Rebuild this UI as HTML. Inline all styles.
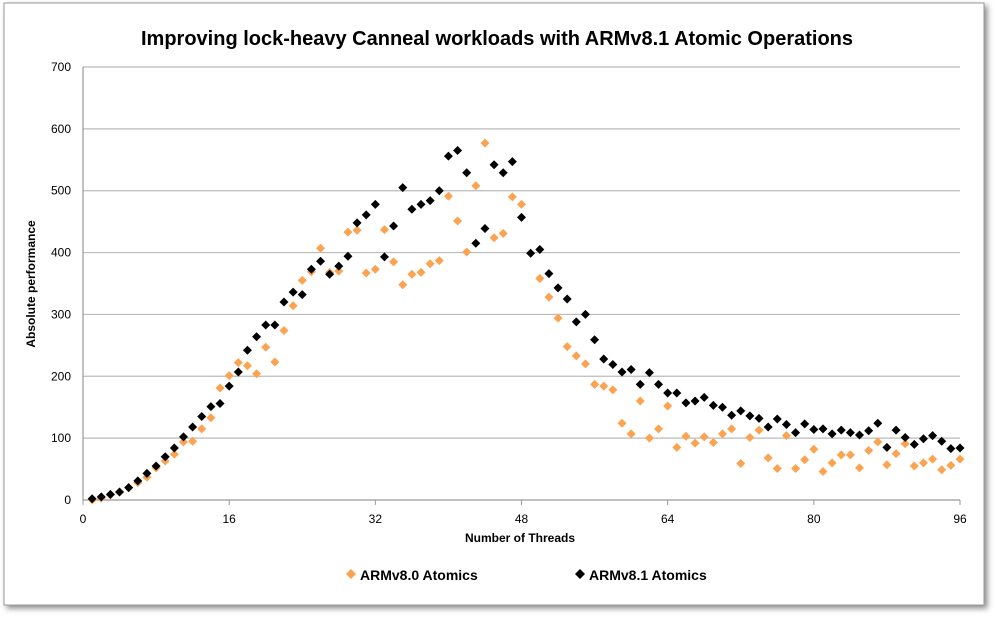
<!DOCTYPE html>
<html><head><meta charset="utf-8"><style>
html,body{margin:0;padding:0;background:#fff;}
body{width:996px;height:617px;overflow:hidden;font-family:"Liberation Sans",sans-serif;}
</style></head><body>
<svg width="996" height="617" xmlns="http://www.w3.org/2000/svg">
<defs><filter id="sh" x="-5%" y="-5%" width="110%" height="110%"><feDropShadow dx="3" dy="3" stdDeviation="3" flood-color="#000" flood-opacity="0.45"/></filter></defs>
<rect x="4" y="3" width="980" height="602" fill="#fff" stroke="#999" stroke-width="1" filter="url(#sh)"/>
<text x="497" y="45" text-anchor="middle" font-size="20" font-weight="bold" fill="#000">Improving lock-heavy Canneal workloads with ARMv8.1 Atomic Operations</text>
<g id="grid"></g>
<g id="axes"></g>
<g id="marks"></g>
<text x="520" y="542" text-anchor="middle" font-size="12" font-weight="bold">Number of Threads</text>
<text x="0" y="0" transform="translate(35,284) rotate(-90)" text-anchor="middle" font-size="12" font-weight="bold">Absolute performance</text>
<g><path d="M351 569 l5 5 l-5 5 l-5 -5z" fill="#fba350"/><text x="360" y="580" font-size="14" font-weight="bold">ARMv8.0 Atomics</text></g>
<g><path d="M580 569 l5 5 l-5 5 l-5 -5z" fill="#000"/><text x="589" y="580" font-size="14" font-weight="bold">ARMv8.1 Atomics</text></g>
</svg>
<script>
const xTicks=[0,16,32,48,64,80,96];
const yTicks=[0,100,200,300,400,500,600,700];
const v80=[0,3,8,13,20,28,37,52,63,74,94,95,115,133,181,201,222,217,204,247,223,274,314,355,369,407,368,370,433,436,367,373,437,385,348,365,368,382,387,491,451,401,508,577,424,431,490,478,399,358,328,294,248,233,220,187,184,178,124,107,160,100,115,152,85,103,92,102,93,107,115,59,101,113,68,51,104,51,65,82,46,60,73,73,52,80,94,57,75,91,55,60,66,49,56,66];
const v81=[2,5,9,13,20,31,43,55,70,84,102,118,135,151,156,184,207,242,264,283,283,320,336,332,373,386,365,378,394,448,461,478,393,443,505,470,478,484,500,556,565,529,415,439,542,529,547,457,399,405,366,343,325,288,300,259,228,219,207,211,187,206,187,173,173,157,160,166,153,150,137,144,136,132,118,131,122,109,123,114,115,107,113,109,105,112,124,85,113,101,90,99,104,95,83,84];
const L=83,R=960,T=67,B=500;
const xs=v=>L+(v-0)/96*(R-L), ys=v=>B-v/700*(B-T);
const NS="http://www.w3.org/2000/svg";
const grid=document.getElementById('grid'),axes=document.getElementById('axes'),marks=document.getElementById('marks');
function mk(tag,attrs,parent){const e=document.createElementNS(NS,tag);for(const k in attrs)e.setAttribute(k,attrs[k]);parent.appendChild(e);return e;}
yTicks.forEach(t=>{
 const l=mk('line',{x1:L,x2:R,y1:ys(t),y2:ys(t),stroke:t===0?'#999':'#bbb','stroke-width':1.2},grid);
 
 
 const tx=mk('text',{x:L-12,y:ys(t)+4,'text-anchor':'end','font-size':12},axes);tx.textContent=t;
 
 
});
const ax=mk('line',{x1:L,x2:L,y1:T,y2:B,stroke:'#999','stroke-width':1.2},axes);


xTicks.forEach(t=>{
 const tk=mk('line',{x1:xs(t),x2:xs(t),y1:B,y2:B+5,stroke:'#999'},axes);
 
 
 const tx=mk('text',{x:xs(t),y:B+23,'text-anchor':'middle','font-size':12},axes);tx.textContent=t;
 
 
});
function series(arr,color,name){
 arr.forEach((v,i)=>{const x=xs(i+1),y=ys(v);
  const p=mk('path',{d:`M${x} ${y-4.5} L${x+4.5} ${y} L${x} ${y+4.5} L${x-4.5} ${y}Z`,fill:color},marks);
  
  
 });
}
series(v80,'#fba350','point-armv80');
series(v81,'#000','point-armv81');
</script>
</body></html>
